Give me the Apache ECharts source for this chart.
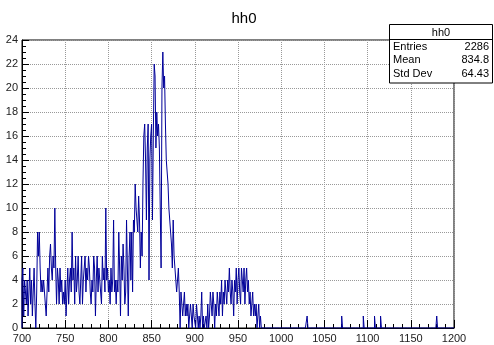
<!DOCTYPE html>
<html>
<head>
<meta charset="utf-8">
<script src="https://cdn.jsdelivr.net/npm/echarts@6/dist/echarts.min.js"></script>
<style>
  html, body { margin: 0; padding: 0; background: #fff; }
  #chart { width: 494px; height: 345px; }
</style>
</head>
<body>
<div id="chart"></div>
<script>
// Histogram hh0: 500 bins of width 1 between 700 and 1200
const histName = 'hh0';
const binLow = 700;
const binHigh = 1200;
const binWidth = 1;

// bin contents, ten bins per row
const counts700 = [
  4,5,1,4,3,2,4,1,3,5,
  2,4,1,3,5,2,0,3,8,6,
  8,5,3,4,3,4,3,2,1,3,
  5,3,6,7,5,4,6,5,10,5,
  2,5,4,2,5,3,4,2,3,2
];
const counts750 = [
  4,1,3,5,2,4,5,3,8,4,
  5,2,6,3,4,6,3,2,4,6,
  2,4,5,6,3,5,4,6,5,3,
  2,4,3,6,5,1,4,6,3,5,
  4,3,2,6,4,5,3,10,4,5
];
const counts800 = [
  3,4,2,5,3,4,9,3,4,2,
  4,3,8,5,1,6,4,7,5,2,
  3,9,5,1,6,8,4,8,3,9,
  8,12,10,9,8,11,9,5,8,6,
  12,16,17,14,9,15,17,4,14,16
];
const counts850 = [
  17,9,16,22,21,15,18,16,17,15,
  15,5,20,23,20,21,17,14,13,12,
  10,9,8,7,5,9,6,5,4,3,
  4,5,3,0,3,2,1,2,3,1,
  2,1,2,0,1,2,1,0,2,1
];
const counts900 = [
  1,0,2,1,0,1,0,1,3,0,
  1,0,0,1,0,2,0,1,3,2,
  1,3,2,0,2,1,3,2,1,3,
  2,4,1,3,2,4,3,2,4,3,
  5,3,2,4,3,1,4,3,5,2
];
const counts950 = [
  4,5,3,2,5,4,3,5,2,4,
  5,3,4,2,3,1,2,3,1,2,
  1,2,0,1,2,0,1,0,0,0,
  0,0,0,0,0,0,0,0,0,0,
  0,0,0,0,0,0,0,0,0,0
];
// lone filled bins above 1000
const tailBins = [1030, 1070, 1095, 1108, 1115, 1180];
const tailCounts = [1, 1, 1, 1, 1, 1];

// statistics box entries
const statLabels = ['Entries', 'Mean', 'Std Dev'];
const statValues = ['2286', '834.8', '64.43'];

// axis ticks
const xTicks = [700, 750, 800, 850, 900, 950, 1000, 1050, 1100, 1150, 1200];
const yTicks = [0, 2, 4, 6, 8, 10, 12, 14, 16, 18, 20, 22, 24];

// assemble all bins
const nBins = Math.round((binHigh - binLow) / binWidth);
const counts = new Array(nBins).fill(0);
[counts700, counts750, counts800, counts850, counts900, counts950].forEach((seg, s) => {
  seg.forEach((v, k) => { counts[s * 50 + k] = v; });
});
tailBins.forEach((b, k) => { counts[Math.round((b - binLow) / binWidth)] = tailCounts[k]; });

// outline points: left edge of each bin with its content, closed at both ends
const outline = [[binLow, 0]];
counts.forEach((v, i) => outline.push([binLow + i * binWidth, v]));
outline.push([binHigh, counts[nBins - 1]]);
outline.push([binHigh, 0]);

const FONT = '"Liberation Sans", Arial, sans-serif';
const chart = echarts.init(document.getElementById('chart'), null, { renderer: 'canvas' });

const boxX = 389, boxY = 24, boxW = 104, rowH = 13.5, headH = 15;
const boxH = headH + statLabels.length * rowH + 3;
const statGraphics = [
  { type: 'rect', shape: { x: boxX + 0.5, y: boxY + 0.5, width: boxW - 1, height: boxH },
    style: { fill: '#fff', stroke: '#000', lineWidth: 1 }, z: 100 },
  { type: 'line', shape: { x1: boxX, y1: boxY + headH + 0.5, x2: boxX + boxW, y2: boxY + headH + 0.5 },
    style: { stroke: '#000', lineWidth: 1 }, z: 101 },
  { type: 'text', x: boxX + boxW / 2, y: boxY + headH / 2 + 1,
    style: { text: histName, font: '11px ' + FONT, fill: '#000', align: 'center', verticalAlign: 'middle' }, z: 101 }
];
statLabels.forEach((lab, k) => {
  const cy = boxY + headH + rowH * (k + 0.5) + 1;
  statGraphics.push({ type: 'text', x: boxX + 4, y: cy,
    style: { text: lab, font: '11px ' + FONT, fill: '#000', align: 'left', verticalAlign: 'middle' }, z: 101 });
  statGraphics.push({ type: 'text', x: boxX + boxW - 4, y: cy,
    style: { text: statValues[k], font: '11px ' + FONT, fill: '#000', align: 'right', verticalAlign: 'middle' }, z: 101 });
});

chart.setOption({
  animation: false,
  backgroundColor: '#fff',
  title: {
    text: histName, left: 239, top: 6, textAlign: 'center',
    textStyle: { fontFamily: FONT, fontSize: 15, fontWeight: 'normal', color: '#000' }
  },
  grid: {
    left: 22, right: 40, top: 40, bottom: 17,
    show: true, borderColor: '#000', borderWidth: 1, backgroundColor: 'transparent'
  },
  xAxis: {
    type: 'value', min: binLow, max: binHigh, interval: 50,
    axisLine: { show: true, lineStyle: { color: '#000', width: 1 } },
    axisTick: { show: true, inside: true, length: 8, lineStyle: { color: '#000' } },
    minorTick: { show: true, splitNumber: 5, length: 4, lineStyle: { color: '#000' } },
    axisLabel: {
      margin: 5, fontFamily: FONT, fontSize: 11, color: '#222',
      formatter: v => (xTicks.indexOf(v) >= 0 ? String(v) : '')
    },
    splitLine: { show: true, lineStyle: { color: '#999', type: 'dotted', width: 1 } }
  },
  yAxis: {
    type: 'value', min: 0, max: 24, interval: 2,
    axisLine: { show: true, lineStyle: { color: '#000', width: 1 } },
    axisTick: { show: true, inside: true, length: 7, lineStyle: { color: '#000' } },
    minorTick: { show: true, splitNumber: 4, length: 4, lineStyle: { color: '#000' } },
    axisLabel: {
      margin: 4, fontFamily: FONT, fontSize: 11, color: '#222',
      formatter: v => (yTicks.indexOf(v) >= 0 ? String(v) : '')
    },
    splitLine: { show: true, lineStyle: { color: '#999', type: 'dotted', width: 1 } }
  },
  series: [{
    type: 'line', name: histName, step: 'end', data: outline,
    showSymbol: false, symbol: 'none', clip: true,
    lineStyle: { color: '#000099', width: 1 },
    z: 5
  }],
  graphic: statGraphics
});
</script>
</body>
</html>
